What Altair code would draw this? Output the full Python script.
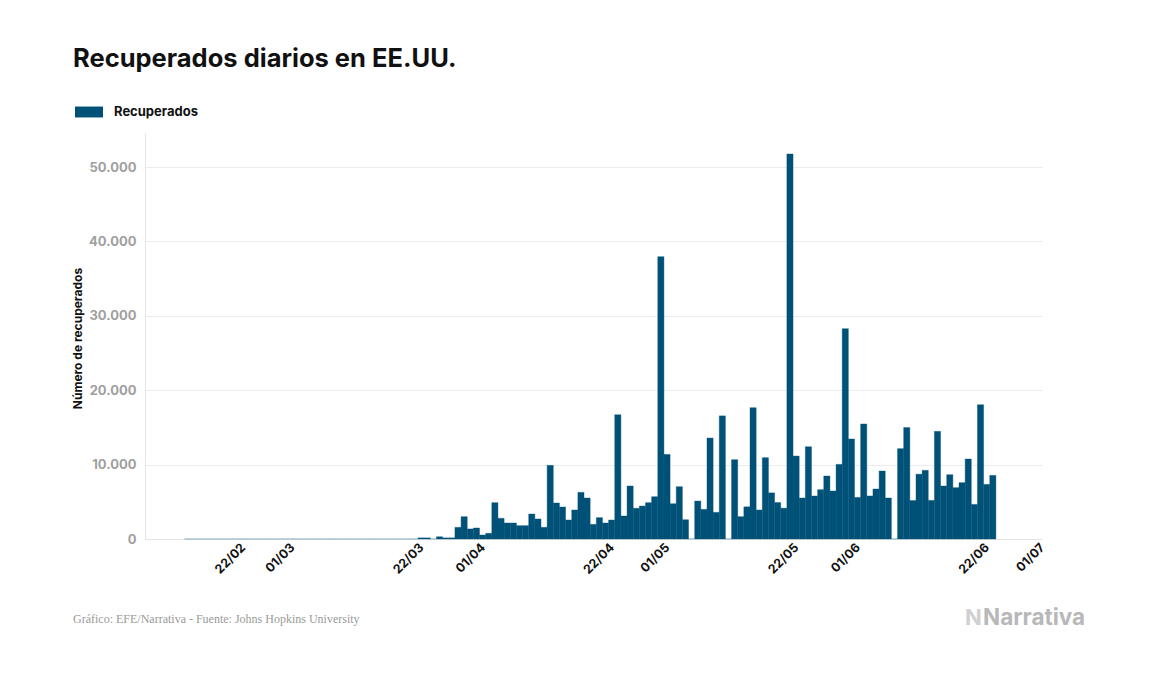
import altair as alt
import pandas as pd

# ---- data ----
serie = "Recuperados"
fecha_inicio = "2020-02-13"
# 13/02 .. 21/03 : zero daily recoveries
ceros_iniciales = [0] * 38
# 22/03 .. 23/06
recuperados_diarios = [
    150, 150, 0, 300, 150, 150, 1570, 3000, 1350, 1480,
    540, 760, 4880, 2780, 2150, 2150, 1790, 1790, 3360, 2690,
    1570, 9900, 4840, 4300, 2550, 3900, 6270, 5510, 1970, 2870,
    2150, 2550, 16700, 3090, 7120, 4130, 4430, 4880, 5690, 37950,
    11370, 4740, 7030, 2590, 0, 5100, 3980, 13570, 3580, 16550,
    0, 10660, 3000, 4320, 17650, 3900, 10930, 6200, 4900, 4140,
    51750, 11150, 5510, 12400, 5780, 6630, 8470, 6450, 10030, 28270,
    13440, 5590, 15460, 5780, 6720, 9140, 5510, 0, 12140, 14980,
    5170, 8710, 9230, 5190, 14470, 7120, 8640, 6900, 7570, 10750,
    4650, 18050, 7340, 8550,
]
valores = ceros_iniciales + recuperados_diarios

etiquetas_x = [(2020, 2, 22), (2020, 3, 1), (2020, 3, 22), (2020, 4, 1), (2020, 4, 22),
               (2020, 5, 1), (2020, 5, 22), (2020, 6, 1), (2020, 6, 22), (2020, 7, 1)]
ticks_y = [0, 10000, 20000, 30000, 40000, 50000]

titulo = "Recuperados diarios en EE.UU."
titulo_y = "Número de recuperados"
fuente = "Gráfico: EFE/Narrativa - Fuente: Johns Hopkins University"
logo = "Narrativa"

# ---- table ----
fechas = pd.date_range(fecha_inicio, periods=len(valores), freq="D")
df = pd.DataFrame({
    "inicio": (fechas - pd.Timedelta(hours=12)).strftime("%Y-%m-%dT%H:%M:%S"),
    "fin": (fechas + pd.Timedelta(hours=12)).strftime("%Y-%m-%dT%H:%M:%S"),
    "recuperados": valores,
    "serie": serie,
})

AZUL = "#005177"
FONT = "Inter"

x_scale = alt.Scale(domain=[alt.DateTime(year=2020, month=2, date=6, hours=2),
                            alt.DateTime(year=2020, month=7, date=1)])
y_scale = alt.Scale(domain=[0, 54570], nice=False, zero=True)

x_axis = alt.Axis(
    values=[alt.DateTime(year=a, month=m, date=d) for a, m, d in etiquetas_x],
    format="%d/%m", labelAngle=-45, labelAlign="right", labelBaseline="middle",
    labelFontSize=12.5, labelFontWeight="bold", labelColor="#111111", labelFont=FONT,
    labelPadding=6, ticks=False, grid=False, domain=True, domainColor="#e3e3e3",
    title=None, labelOverlap=False,
)
y_axis = alt.Axis(
    values=ticks_y, labelExpr="replace(format(datum.value, ','), ',', '.')",
    labelFontSize=13, labelFontWeight="bold", labelColor="#a0a0a0", labelFont=FONT,
    labelPadding=9, ticks=False, grid=True, gridColor="#ececec", domain=True,
    domainColor="#e6e6e6", title=titulo_y, titleFont=FONT, titleFontSize=12,
    titleFontWeight="bold", titleColor="#111111", titleAngle=270,
    titleX=-68, titleY=205, titleAlign="center", titleBaseline="middle",
)

base = alt.Chart(df)

barras = base.transform_filter("datum.recuperados > 0").mark_bar(
    stroke=AZUL, strokeWidth=0.4
).encode(
    x=alt.X("inicio:T", scale=x_scale, axis=x_axis),
    x2="fin:T",
    y=alt.Y("recuperados:Q", scale=y_scale, axis=y_axis),
    y2=alt.datum(0),
    color=alt.Color(
        "serie:N",
        scale=alt.Scale(domain=[serie], range=[AZUL]),
        legend=alt.Legend(
            title=None, orient="none", legendX=-70, legendY=-35,
            symbolType="M-1,-0.39H1V0.39H-1Z", symbolSize=784, symbolStrokeWidth=0,
            symbolOpacity=1, labelFont=FONT, labelFontSize=13, labelFontWeight="bold",
            labelColor="#111111", labelOffset=11, padding=0,
        ),
    ),
)

ceros = base.transform_filter("datum.recuperados == 0").mark_bar(
    fill="transparent", stroke="#a9c1d0", strokeWidth=1
).encode(
    x=alt.X("inicio:T", scale=x_scale),
    x2="fin:T",
    y=alt.Y("recuperados:Q", scale=y_scale),
    y2=alt.datum(0),
)

def texto(t, x, y, **kw):
    return alt.Chart(pd.DataFrame({"t": [t]})).mark_text(align="left", baseline="alphabetic", **kw).encode(
        text="t:N", x=alt.value(x), y=alt.value(y)
    )

t_titulo = texto(titulo, -72, -66, font=FONT, fontSize=25.5, fontWeight="bold", color="#111111")
t_fuente = texto(fuente, -72, 490, font="Liberation Serif", fontSize=12, color="#9a9a9a")
t_logo_n = texto("N", 820, 492, font=FONT, fontSize=22, fontWeight="bold", color="#d0d0d0")
t_logo = texto(logo, 838, 492, font=FONT, fontSize=22.5, fontWeight="bold", color="#b8b8b8")

chart = alt.layer(ceros, barras, t_titulo, t_fuente, t_logo_n, t_logo).properties(
    width=897, height=406,
    padding={"left": 137, "top": 125, "right": 107, "bottom": 127},
    autosize=alt.AutoSizeParams(type="none"),
).configure(font=FONT, background="white").configure_view(strokeWidth=0, stroke="transparent")

chart.save("out.html", embed_options={"renderer": "svg", "actions": False})
